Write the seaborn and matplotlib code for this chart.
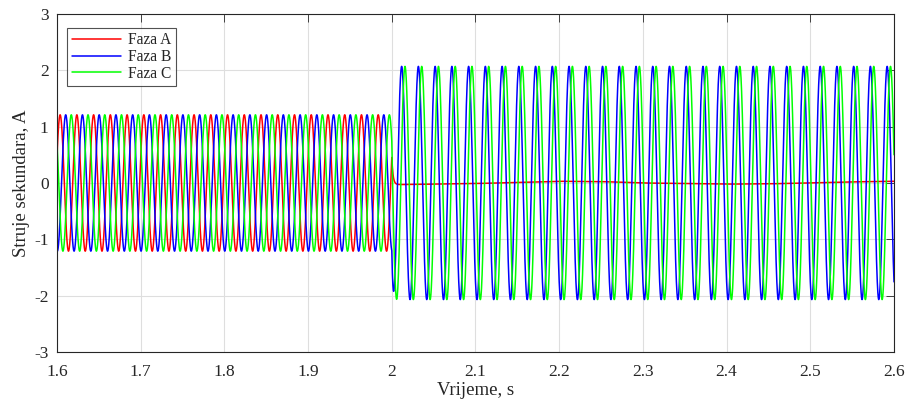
"""Struje sekundara - trofazni kvar"""
import numpy as np
import pandas as pd
import seaborn as sns
import matplotlib
matplotlib.use("Agg")
import matplotlib.pyplot as plt

# signal parameters
faze = ["Faza A", "Faza B", "Faza C"]
boje = ["#ff0000", "#0000ff", "#00ff00"]
freq = 50.0
t_start, t_fault, t_end = 1.6, 2.0, 2.6
pre_amp = [1.21, 1.21, 1.21]          # A, before the fault
pre_phase = [22.0, -98.0, 142.0]      # deg at t = 1.6
post_amp = [0.0, 2.07, 2.07]          # A, after the fault
post_phase = [0.0, -122.0, 166.0]     # deg at t = 2.0
tau = 0.0015                          # s, transition at the fault

# residual current of phase A after the fault
res_t = [2.0, 2.05, 2.1, 2.15, 2.2, 2.25, 2.3, 2.35, 2.4, 2.45, 2.5, 2.55, 2.6]
res_a = [-0.03, -0.02, -0.01, 0.01, 0.03, 0.025, 0.0, -0.01, -0.02, -0.015, 0.0, 0.02, 0.03]

xticks = [1.6, 1.7, 1.8, 1.9, 2.0, 2.1, 2.2, 2.3, 2.4, 2.5, 2.6]
xlabels = ["1.6", "1.7", "1.8", "1.9", "2", "2.1", "2.2", "2.3", "2.4", "2.5", "2.6"]
yticks = [-3, -2, -1, 0, 1, 2, 3]


def build():
    t = np.arange(t_start, t_end + 1e-9, 0.0001)
    w = 2 * np.pi * freq
    rows = []
    for i, name in enumerate(faze):
        pre = pre_amp[i] * np.sin(w * (t - t_start) + np.radians(pre_phase[i]))
        post = post_amp[i] * np.sin(w * (t - t_fault) + np.radians(post_phase[i]))
        if i == 0:
            post = post + np.interp(t, res_t, res_a)
        # smooth jump from pre-fault to post-fault value
        pre_f = pre_amp[i] * np.sin(w * (t_fault - t_start) + np.radians(pre_phase[i]))
        post_f = post_amp[i] * np.sin(np.radians(post_phase[i])) + (res_a[0] if i == 0 else 0)
        post = post + (pre_f - post_f) * np.exp(-(t - t_fault) / tau)
        y = np.where(t < t_fault, pre, post)
        rows.append(pd.DataFrame({"t": t, "i": y, "faza": name}))
    return pd.concat(rows, ignore_index=True)


def main():
    df = build()
    sns.set_style("white")
    plt.rcParams["font.family"] = ["Liberation Serif", "DejaVu Serif"]
    plt.rcParams["axes.unicode_minus"] = False

    fig = plt.figure(figsize=(9.07, 4.03), dpi=100)
    ax = fig.add_axes([0.0628, 0.1266, 0.9229, 0.8387])
    sns.lineplot(data=df, x="t", y="i", hue="faza", palette=dict(zip(faze, boje)),
                 estimator=None, sort=False, linewidth=1.1, ax=ax)

    ax.set_xlim(t_start, t_end)
    ax.set_ylim(-3, 3)
    ax.set_xticks(xticks)
    ax.set_xticklabels(xlabels)
    ax.set_yticks(yticks)
    ax.grid(True, color="#dedede", linewidth=0.8)
    ax.set_axisbelow(True)
    ax.tick_params(direction="in", length=6, width=0.6, top=True, right=True,
                   labelsize=12.5, colors="#262626")
    ax.tick_params(axis="x", pad=9)
    ax.tick_params(axis="y", pad=6)
    for s in ax.spines.values():
        s.set_color("#262626")
        s.set_linewidth(0.8)
    ax.set_xlabel("Vrijeme, s", fontsize=13.5, color="#262626", labelpad=1)
    ax.set_ylabel("Struje sekundara, A", fontsize=13.5, color="#262626", labelpad=3)

    leg = ax.legend(loc="upper left", bbox_to_anchor=(0.012, 0.96), fontsize=11.2,
                    frameon=True, fancybox=False, edgecolor="#262626",
                    handlelength=3.2, handletextpad=0.4, labelspacing=0.05,
                    borderpad=0.3, borderaxespad=0)
    leg.get_frame().set_linewidth(0.8)

    fig.savefig("out.png", dpi=100)


if __name__ == "__main__":
    main()
